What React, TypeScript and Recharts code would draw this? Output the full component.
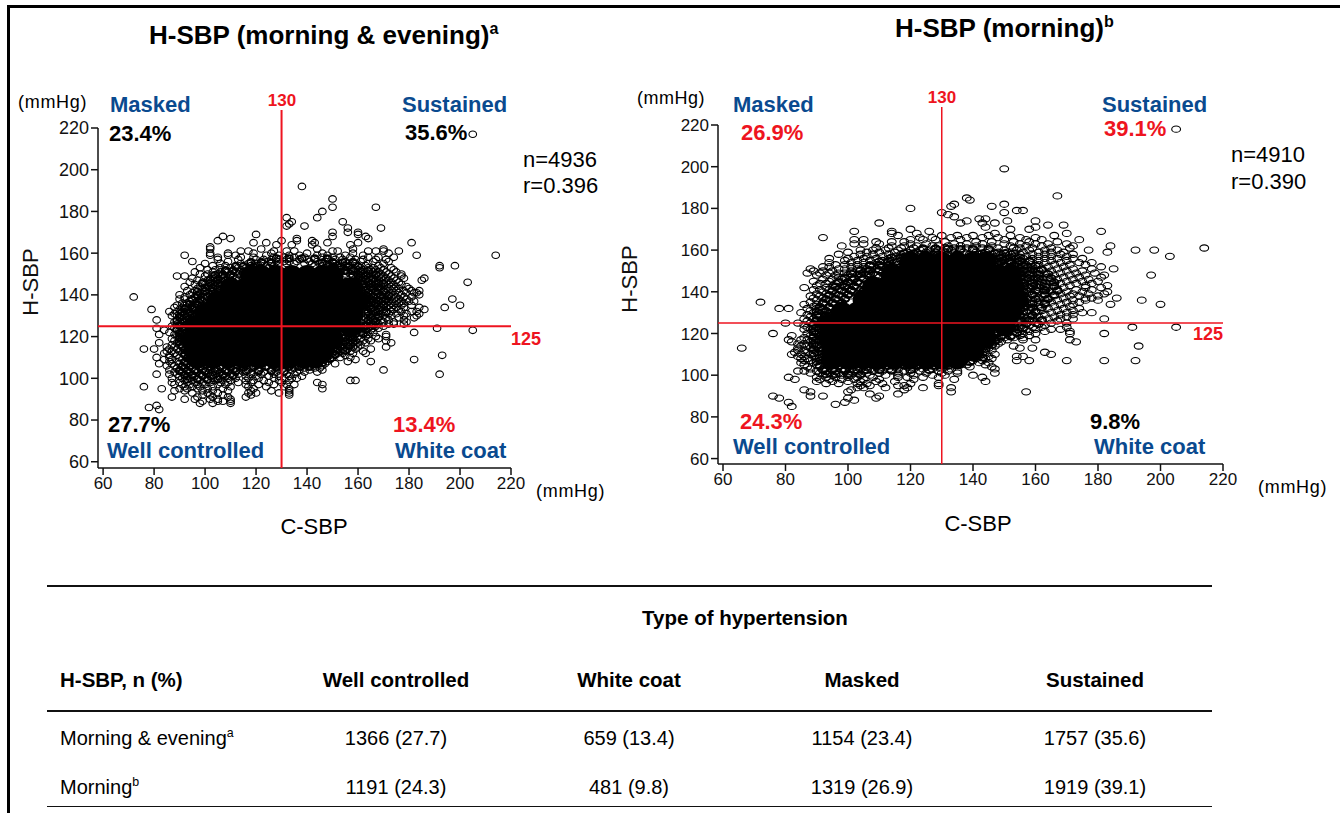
import React from 'react';
import { ScatterChart, Scatter, XAxis, YAxis } from 'recharts';

type Row = [number, number[]];

const FONT = '"Liberation Sans", Arial, sans-serif';
const BLUE = '#0a4a8f';
const RED = '#ee1420';

const axisTicks = [60, 80, 100, 120, 140, 160, 180, 200, 220];
const cutX = 130;
const cutY = 125;
const cutTop = 228.6;

// each row is one H-SBP value followed by the C-SBP values read at that height
const leftRings: Row[] = [
  [217, [205]], [192, [138]], [186, [150]], [182, [150, 167]], [180, [146]], [177, [132, 144]],
  [175, [134, 154]], [174, [133]], [173, [132, 139]], [172, [156, 169]], [170, [150, 156, 160]],
  [169, [120, 160]], [168, [107, 150, 163]], [167, [110, 136, 164]], [166, [105, 130, 136, 142]],
  [165, [119, 124, 143, 148, 160, 181]], [164, [128, 134, 142, 157]], [163, [102]],
  [162, [102, 122, 144, 158, 170]], [161, [114, 117, 127, 132, 135, 150, 152, 164, 167, 170, 176]],
  [160, [102, 109, 119, 126, 140, 146, 158, 172]],
  [159, [92, 102, 109, 112, 124, 129, 133, 137, 144, 148, 155, 162, 183, 214]],
  [158, [105, 114, 119, 127, 131, 135, 139, 146, 150, 153, 157, 164, 168, 174]],
  [157, [105, 113, 120, 123, 126, 129, 132, 137, 140, 143, 148, 151, 154, 159, 162, 167, 171]],
  [156, [95, 109, 118, 122, 125, 128, 131, 133, 136, 141, 144, 147, 150, 155, 158, 161, 166, 172]],
  [155, [100, 106, 114, 117, 120, 123, 126, 129, 132, 135, 139, 142, 145, 148, 151, 153, 156, 159, 164, 170]],
  [154, [103, 108, 112, 115, 118, 121, 124, 127, 143, 146, 149, 152, 155, 157, 160, 163, 168, 192, 198]],
  [153, [98, 106, 110, 113, 116, 119, 122, 125, 147, 150, 153, 156, 158, 161, 164, 166, 169, 173, 192]],
  [152, [101, 104, 108, 111, 114, 117, 120, 150, 153, 155, 158, 160, 162, 165, 167, 170, 174]],
  [151, [96, 103, 106, 109, 112, 115, 118, 153, 156, 159, 161, 163, 166, 168, 171, 175]],
  [150, [98, 101, 105, 107, 110, 113, 115, 155, 157, 160, 162, 164, 167, 169, 172, 177]],
  [149, [89, 92, 100, 103, 106, 108, 111, 114, 158, 161, 163, 165, 168, 170, 173, 177]],
  [148, [95, 104, 107, 109, 112, 159, 162, 164, 166, 169, 171, 174, 178, 186]],
  [147, [97, 101, 103, 105, 108, 110, 113, 160, 163, 165, 167, 170, 172, 175, 185]],
  [146, [94, 99, 102, 104, 106, 109, 111, 161, 164, 166, 168, 171, 173, 176, 203]],
  [145, [96, 100, 103, 105, 107, 110, 162, 165, 167, 169, 172, 174, 177]],
  [144, [92, 98, 101, 104, 106, 108, 163, 165, 168, 170, 173, 175, 179]],
  [143, [97, 99, 102, 105, 107, 109, 164, 166, 169, 171, 174, 176, 180]],
  [142, [93, 96, 100, 103, 106, 108, 163, 165, 167, 170, 172, 175, 178, 181, 184]],
  [141, [95, 98, 101, 104, 106, 164, 166, 168, 171, 173, 176, 179, 182, 183]],
  [140, [90, 94, 97, 100, 102, 105, 107, 163, 165, 167, 169, 172, 174, 177, 184]],
  [139, [72, 92, 96, 99, 101, 104, 106, 164, 166, 168, 170, 173, 175, 178, 181]],
  [138, [90, 92, 95, 98, 100, 103, 105, 163, 165, 167, 169, 171, 174, 176, 179, 197]],
  [137, [94, 97, 99, 102, 104, 163, 166, 168, 170, 172, 175, 177, 180, 182]],
  [136, [91, 93, 96, 98, 101, 103, 164, 165, 167, 169, 171, 173, 176, 178]],
  [135, [89, 92, 95, 97, 100, 102, 163, 165, 168, 170, 172, 174, 177, 181, 200]],
  [134, [95, 88, 91, 94, 96, 99, 101, 164, 166, 169, 171, 173, 175, 178, 184, 194]],
  [133, [79, 90, 92, 93, 95, 98, 100, 163, 165, 167, 170, 174, 176, 186]],
  [132, [86, 89, 91, 94, 97, 99, 164, 166, 168, 171, 173, 177, 181, 183]],
  [131, [88, 90, 92, 93, 96, 98, 163, 165, 169, 172, 175, 179, 184]],
  [130, [87, 89, 91, 94, 96, 164, 167, 170, 173, 178, 183]],
  [129, [90, 92, 95, 163, 165, 168, 171, 176, 182]],
  [128, [81, 89, 91, 93, 162, 164, 166, 169, 172, 178]],
  [127, [88, 90, 92, 94, 163, 165, 167, 170, 174, 179]],
  [126, [89, 91, 93, 162, 164, 166, 168, 172, 174, 178]],
  [125, [87, 90, 92, 161, 163, 165, 167, 170]],
  [124, [81, 88, 91, 162, 164, 166, 168, 191]],
  [123, [84, 89, 90, 92, 160, 163, 165, 205]],
  [122, [86, 91, 158, 161, 163, 166, 182]],
  [121, [82, 88, 90, 157, 159, 162, 164, 171]],
  [120, [89, 91, 93, 155, 157, 160, 163, 167, 171]],
  [119, [87, 90, 92, 154, 156, 158, 161, 164, 168]],
  [118, [88, 91, 152, 155, 157, 159, 162, 165, 171]],
  [117, [82, 89, 92, 151, 153, 156, 158, 160, 163, 173]],
  [116, [87, 90, 93, 150, 152, 154, 157, 159, 161]],
  [115, [85, 88, 91, 149, 151, 153, 155, 158, 160, 171]],
  [114, [76, 80, 86, 89, 92, 148, 150, 152, 154, 156, 159, 165]],
  [113, [85, 87, 90, 93, 147, 149, 151, 153, 155, 157, 162]],
  [112, [84, 88, 91, 94, 146, 148, 150, 152, 154, 158, 163]],
  [111, [86, 89, 92, 145, 147, 149, 151, 155, 193]],
  [110, [81, 86, 90, 93, 95, 144, 146, 148, 150, 153, 157]],
  [109, [84, 87, 91, 94, 141, 143, 145, 147, 149, 159, 182]],
  [108, [86, 89, 92, 139, 141, 143, 145, 148, 156, 165]],
  [107, [82, 87, 90, 93, 96, 131, 134, 137, 140, 142, 144, 147, 151]],
  [106, [85, 88, 91, 94, 97, 100, 103, 106, 109, 113, 116, 120, 124, 127, 130, 133, 136, 138, 141, 146]],
  [105, [89, 92, 95, 98, 101, 104, 107, 110, 112, 115, 118, 122, 125, 128, 131, 135, 139, 143, 145]],
  [104, [86, 90, 93, 96, 99, 102, 105, 108, 111, 114, 117, 121, 126, 130, 134, 137, 141, 146, 170]],
  [103, [88, 91, 94, 97, 100, 103, 106, 109, 112, 115, 119, 123, 128, 131, 136, 139, 144]],
  [102, [81, 86, 89, 92, 95, 98, 101, 104, 107, 110, 113, 118, 122, 127, 132, 135, 192]],
  [101, [90, 93, 96, 99, 102, 105, 108, 111, 116, 120, 125, 129, 133, 138]],
  [100, [87, 91, 94, 97, 100, 103, 106, 109, 112, 117, 121, 127, 131, 134, 136]],
  [99, [92, 95, 98, 101, 104, 107, 110, 116, 119, 123, 129, 133, 157, 159]],
  [98, [87, 90, 93, 96, 99, 102, 106, 109, 113, 118, 125, 130, 144]],
  [97, [88, 91, 94, 97, 100, 105, 108, 116, 121, 127, 132, 135, 146]],
  [96, [76, 92, 95, 98, 103, 110, 117, 124, 131]],
  [95, [83, 90, 93, 97, 101, 107, 119, 146, 133]],
  [94, [88, 92, 99, 103, 109, 118, 126, 133]],
  [93, [95, 101, 105, 117, 120, 129, 133]],
  [92, [99, 102, 107, 118, 133]],
  [91, [87, 97, 103, 109, 116]],
  [90, [92, 96, 102, 105, 110]],
  [89, [99, 105, 107, 110]],
  [88, [98, 103, 110]],
  [87, [81]], [86, [78]], [85, [82]],
];

// tightly overlapping readings around the solid area
const leftDense: Row[] = [
  [157.5, [128, 133, 138, 143, 148]],
  [155.5, [118, 122, 126, 146, 150, 154, 158]],
  [153.5, [112, 115, 119, 150, 153, 156, 160]],
  [151.5, [108, 111, 155, 158, 161, 164]],
  [149.5, [104, 107, 110, 158, 160, 163, 167]],
  [147.5, [102, 105, 160, 163, 166]],
  [145.5, [99, 102, 105, 162, 165, 168, 170]],
  [143.5, [100, 103, 162, 165, 168]],
  [141.5, [97, 100, 103, 164, 167, 170]],
  [139.5, [97, 101, 163, 166, 169, 172]],
  [137.5, [95, 98, 165, 168, 171]],
  [135.5, [94, 97, 164, 167, 170]],
  [133.5, [92, 95, 165, 168]],
  [131.5, [91, 94, 164, 167, 171]],
  [129.5, [90, 93, 165, 168]],
  [127.5, [89, 92, 164, 167]],
  [125.5, [90, 163, 166]],
  [123.5, [89, 92, 160, 163]],
  [121.5, [90, 92, 156, 159, 162]],
  [119.5, [90, 155, 158]],
  [117.5, [90, 93, 152, 155, 158]],
  [115.5, [91, 150, 153, 156]],
  [113.5, [92, 149, 152, 155]],
  [111.5, [92, 95, 148, 151]],
  [109.5, [93, 146, 149]],
  [107.5, [92, 95, 97, 101, 105, 109, 113, 118, 122, 126, 130, 134, 138, 142, 146]],
  [105.5, [91, 94, 98, 102, 106, 110, 115, 119, 124, 128, 133, 137, 141]],
  [103.5, [90, 93, 96, 100, 104, 108, 112, 116, 121, 126, 131]],
  [101.5, [92, 95, 99, 103, 107, 111]],
  [99.5, [93, 97, 101, 105]],
];

const leftCore: Row[] = [
  [149, [118, 122, 128, 134, 140, 146, 150]],
  [143, [110, 116, 122, 128, 134, 140, 146, 152, 156, 158]],
  [137, [105, 111, 117, 123, 129, 135, 141, 147, 153, 157, 160]],
  [131, [100, 106, 112, 118, 124, 130, 136, 142, 148, 154, 158]],
  [125, [96, 102, 108, 114, 120, 126, 132, 138, 144, 150, 157]],
  [119, [95, 101, 107, 113, 119, 125, 131, 137, 143, 150]],
  [113, [96, 102, 108, 114, 120, 126, 132, 138, 146]],
  [110, [97, 103, 109, 115, 121, 127, 133, 139, 143]],
];

const rightRings: Row[] = [
  [218, [205]], [199, [150]], [186, [167]], [185, [138]], [184, [139]], [182, [134, 150]],
  [181, [133, 146]], [180, [120]], [179, [154, 156]], [178, [130, 150]], [177, [132]], [176, [134]],
  [175, [142, 144]], [174, [138, 151, 160]], [173, [110, 136, 143, 147]], [172, [164, 169]],
  [171, [144, 160]], [170, [120, 152, 158]], [169, [102, 114, 126, 181]], [168, [114, 122, 147, 170]],
  [167, [116, 130, 135, 140, 145, 152, 166]], [166, [92, 123, 127, 133, 138, 143, 148, 155, 160]],
  [165, [102, 105, 120, 124, 128, 136, 150, 157, 162, 174]], [164, [109, 114, 118, 131, 141, 146, 153, 158, 167]],
  [163, [102, 105, 110, 120, 125, 134, 138, 143, 150, 155, 160, 164, 170]],
  [162, [98, 114, 118, 122, 127, 129, 132, 136, 141, 146, 152, 157, 162, 172, 184]],
  [161, [109, 113, 117, 121, 124, 128, 131, 134, 138, 143, 148, 153, 155, 159, 165, 171, 214]],
  [160, [104, 108, 112, 116, 120, 123, 126, 129, 133, 136, 140, 145, 150, 154, 158, 163, 167, 177, 192, 198]],
  [159, [100, 106, 110, 115, 119, 122, 125, 128, 131, 134, 137, 141, 144, 148, 151, 156, 161, 165, 169, 183]],
  [158, [97, 104, 108, 113, 117, 120, 123, 126, 129, 132, 135, 139, 142, 146, 149, 152, 155, 159, 163, 168, 172]],
  [157, [102, 106, 111, 115, 118, 121, 124, 127, 141, 144, 147, 150, 153, 157, 161, 165, 170, 203]],
  [156, [94, 100, 105, 109, 113, 116, 119, 122, 125, 143, 146, 149, 151, 154, 156, 159, 163, 167, 172, 175]],
  [155, [99, 103, 107, 111, 114, 117, 120, 123, 145, 147, 150, 152, 155, 158, 161, 165, 170]],
  [154, [94, 101, 105, 109, 112, 115, 118, 121, 147, 149, 152, 154, 156, 159, 163, 168, 174, 178]],
  [153, [96, 99, 103, 107, 110, 113, 116, 119, 148, 150, 153, 155, 157, 161, 166, 171, 176]],
  [152, [92, 94, 101, 105, 108, 111, 114, 117, 150, 152, 154, 156, 159, 164, 169, 181]],
  [151, [88, 97, 99, 103, 106, 109, 112, 115, 151, 153, 155, 157, 160, 162, 167, 172, 178, 185]],
  [150, [89, 92, 95, 101, 104, 107, 110, 113, 152, 154, 156, 158, 161, 165, 170, 175]],
  [149, [87, 91, 94, 97, 99, 102, 105, 108, 111, 153, 155, 157, 159, 163, 168, 173, 179]],
  [148, [90, 93, 96, 100, 103, 106, 109, 154, 156, 158, 161, 166, 171, 176, 182, 197]],
  [147, [97, 99, 101, 104, 107, 110, 155, 157, 160, 164, 169, 174, 181]],
  [146, [92, 95, 98, 102, 105, 108, 154, 156, 159, 162, 167, 172, 177]],
  [145, [89, 94, 97, 100, 103, 106, 109, 155, 158, 161, 165, 170, 175, 180]],
  [144, [91, 93, 96, 99, 101, 104, 107, 156, 159, 163, 168, 173, 178]],
  [143, [90, 95, 98, 100, 102, 105, 157, 160, 162, 166, 171, 176, 183]],
  [142, [86, 93, 96, 99, 103, 106, 158, 161, 164, 169, 176, 181]],
  [141, [89, 91, 94, 97, 101, 104, 157, 160, 163, 167, 173, 178]],
  [140, [92, 95, 99, 102, 158, 161, 165, 170, 175, 183]],
  [139, [90, 93, 96, 100, 103, 157, 159, 163, 168, 172, 177, 182]],
  [138, [88, 91, 94, 98, 101, 156, 160, 166, 171, 174, 180]],
  [137, [89, 92, 96, 99, 157, 161, 164, 169, 176, 178, 186]],
  [136, [90, 94, 97, 156, 159, 163, 167, 172, 176, 180, 194]],
  [135, [72, 88, 92, 95, 98, 157, 161, 165, 170, 174]],
  [134, [86, 90, 93, 96, 156, 159, 163, 168, 172, 184, 200]],
  [133, [89, 91, 94, 157, 161, 166, 171]],
  [132, [78, 81, 87, 90, 92, 156, 159, 164, 169, 174]],
  [131, [88, 91, 93, 155, 158, 162, 167, 172]],
  [130, [85, 89, 92, 95, 157, 160, 165, 170, 175, 178]],
  [129, [87, 90, 93, 155, 159, 163, 168, 172]],
  [128, [88, 91, 94, 156, 158, 161, 166, 170]],
  [127, [86, 89, 92, 155, 159, 164, 168, 172, 182]],
  [126, [87, 90, 93, 154, 157, 162, 167]],
  [125, [80, 84, 88, 91, 155, 160, 165, 170]],
  [124, [86, 89, 92, 153, 156, 158, 163]],
  [123, [87, 90, 152, 155, 159, 162, 170, 191, 205]],
  [122, [86, 88, 91, 151, 154, 157, 160, 165, 168]],
  [121, [89, 92, 150, 153, 155, 158, 163, 171]],
  [120, [76, 87, 90, 148, 151, 154, 156, 160, 171, 182]],
  [119, [82, 88, 91, 147, 149, 152, 155, 158]],
  [118, [86, 89, 92, 145, 148, 150, 153, 156]],
  [117, [81, 85, 87, 90, 143, 146, 148, 151, 156, 160, 171]],
  [116, [82, 88, 91, 142, 144, 147, 149, 173]],
  [115, [84, 86, 89, 92, 141, 143, 145, 148]],
  [114, [85, 87, 90, 140, 142, 144, 147, 153, 193]],
  [113, [66, 84, 88, 91, 139, 141, 143, 145, 155, 159]],
  [112, [84, 86, 89, 92, 138, 140, 142, 146]],
  [111, [83, 87, 90, 137, 139, 141, 144, 163]],
  [110, [82, 85, 88, 91, 136, 138, 140, 143, 147, 165]],
  [109, [84, 86, 89, 92, 135, 137, 139, 142, 145, 154, 156]],
  [108, [85, 87, 90, 93, 134, 136, 138, 141, 144, 146]],
  [107, [86, 88, 91, 94, 125, 128, 131, 133, 135, 137, 140, 143, 154, 158, 170, 182, 192]],
  [106, [85, 89, 92, 95, 112, 115, 118, 121, 124, 127, 130, 133, 136, 139, 142, 145]],
  [105, [86, 90, 93, 96, 99, 102, 105, 108, 111, 114, 117, 120, 123, 126, 129, 134, 138, 144]],
  [104, [87, 91, 94, 97, 100, 103, 106, 109, 112, 115, 119, 122, 125, 128, 131, 139, 146]],
  [103, [88, 92, 95, 98, 101, 104, 107, 110, 113, 116, 121, 124, 127, 130, 133, 147]],
  [102, [84, 86, 90, 93, 96, 99, 102, 105, 108, 111, 114, 118, 123, 129, 132, 135]],
  [101, [88, 91, 94, 97, 100, 103, 106, 110, 116, 120, 125, 130, 135, 147]],
  [100, [92, 95, 98, 101, 104, 107, 112, 116, 121, 127, 131, 140]],
  [99, [81, 90, 93, 96, 100, 103, 108, 116, 119, 124, 129, 143]],
  [98, [83, 91, 94, 98, 102, 105, 110, 121, 134]],
  [97, [90, 95, 100, 104, 109, 115, 144]],
  [96, [93, 97, 103, 106, 111, 120, 129]],
  [95, [104, 107, 116, 118, 129]],
  [94, [103, 105, 112, 119, 124, 133]],
  [93, [86, 101, 118]], [92, [88, 100, 133, 157]], [91, [107, 116]], [90, [76, 88, 92, 110]],
  [89, [78, 100, 109]], [88, [102]], [87, [81, 99]], [86, [96]], [85, [82]],
];

const rightDense: Row[] = [
  [160.5, [124, 128, 132, 136, 140, 145]],
  [158.5, [118, 121, 143, 147, 150, 153]],
  [156.5, [114, 117, 146, 149, 152, 155]],
  [154.5, [110, 113, 116, 149, 152, 155, 158]],
  [152.5, [107, 110, 113, 150, 153, 156, 160]],
  [150.5, [104, 107, 110, 113, 153, 156, 159, 162]],
  [148.5, [101, 104, 107, 155, 158, 161, 164]],
  [146.5, [99, 102, 105, 155, 158, 161, 165]],
  [144.5, [97, 100, 103, 156, 159, 162, 166]],
  [142.5, [96, 99, 102, 156, 159, 163, 166]],
  [140.5, [95, 98, 101, 105, 156, 160, 163, 167]],
  [138.5, [94, 97, 100, 156, 159, 163, 166]],
  [136.5, [93, 96, 99, 156, 160, 164]],
  [134.5, [92, 95, 98, 156, 159, 163]],
  [132.5, [91, 94, 156, 159, 162]],
  [130.5, [90, 93, 156, 160]],
  [128.5, [90, 93, 155, 159]],
  [126.5, [90, 92, 155, 158, 162]],
  [124.5, [89, 91, 153, 157, 161]],
  [122.5, [89, 91, 150, 153, 156]],
  [120.5, [89, 91, 148, 151, 154]],
  [118.5, [89, 91, 146, 149, 152]],
  [116.5, [89, 91, 144, 147]],
  [114.5, [89, 91, 143, 146]],
  [112.5, [89, 92, 141, 144]],
  [110.5, [89, 92, 139, 142]],
  [108.5, [91, 94, 137, 140, 143]],
  [106.5, [90, 93, 96, 100, 103, 107, 111, 115, 118, 123, 127, 131, 135, 139]],
  [104.5, [91, 94, 97, 101, 105, 109, 113, 118, 122, 127, 132]],
  [102.5, [92, 95, 99, 103, 106, 110, 114, 120, 126]],
  [100.5, [93, 96, 100, 104]],
];

const rightCore: Row[] = [
  [154, [120, 125, 130, 135, 140, 144]],
  [148, [114, 118, 123, 128, 133, 138, 143, 148, 152]],
  [142, [108, 112, 117, 122, 127, 132, 137, 142, 147, 150, 153]],
  [136, [105, 110, 115, 120, 125, 130, 135, 140, 145, 150, 154]],
  [130, [98, 103, 108, 113, 118, 123, 128, 133, 138, 143, 148, 152]],
  [124, [94, 99, 104, 109, 114, 119, 124, 129, 134, 139, 144, 150]],
  [118, [94, 99, 104, 109, 114, 119, 124, 129, 134, 139, 144]],
  [112, [95, 100, 105, 110, 115, 120, 125, 130, 135, 140]],
  [108, [95, 100, 105, 110, 115, 120, 125, 130, 135]],
];

const columns = ['Well controlled', 'White coat', 'Masked', 'Sustained'];
const morningEvening = ['1366 (27.7)', '659 (13.4)', '1154 (23.4)', '1757 (35.6)'];
const morning = ['1191 (24.3)', '481 (9.8)', '1319 (26.9)', '1919 (39.1)'];

const toPoints = (rows: Row[]) => rows.flatMap(([y, xs]) => xs.map((x) => ({ x, y })));

type PanelProps = {
  left: number; top: number; lineTop: number; width: number; height: number;
  plotLeft: number; plotRight: number; plotBottom: number;
  xMin: number; yMin: number; rx: number; ry: number; lineWidth: number; yFont: number;
  rings: Row[]; dense: Row[]; core: Row[];
};

const Panel = (p: PanelProps) => (
  <div style={{ position: 'absolute', left: p.left, top: 0 }}>
    <ScatterChart
      width={p.width}
      height={p.height}
      margin={{ top: p.top, left: p.plotLeft - 60, right: p.width - p.plotRight, bottom: p.height - p.plotBottom - 30 }}
    >
      <XAxis
        type="number" dataKey="x" domain={[p.xMin, 220]} ticks={axisTicks} interval={0} height={30}
        stroke="#111" strokeWidth={1.5} tickSize={7} tick={{ fill: '#111', fontSize: 17, fontFamily: FONT }}
      />
      <YAxis
        type="number" dataKey="y" domain={[p.yMin, 220]} ticks={axisTicks} interval={0} width={60}
        stroke="#111" strokeWidth={1.5} tickSize={7} tick={{ fill: '#111', fontSize: p.yFont, fontFamily: FONT }}
      />
      <Scatter
        data={toPoints(p.rings)} isAnimationActive={false}
        shape={(s: any) => <ellipse cx={s.cx} cy={s.cy} rx={p.rx} ry={p.ry} fill="none" stroke="#000" strokeWidth={1.1} />}
      />
      <Scatter
        data={toPoints(p.dense)} isAnimationActive={false}
        shape={(s: any) => <ellipse cx={s.cx} cy={s.cy} rx={p.rx} ry={p.ry} fill="none" stroke="#000" strokeWidth={1.8} />}
      />
      <Scatter
        data={toPoints(p.core)} isAnimationActive={false}
        shape={(s: any) => <ellipse cx={s.cx} cy={s.cy} rx={11} ry={11} fill="#000" />}
      />
    </ScatterChart>
    {/* second chart, taller by the part of the line above 220, so the red cut-offs sit above the marks */}
    <div style={{ position: 'absolute', left: 0, top: 0 }}>
      <ScatterChart
        width={p.width}
        height={p.height}
        margin={{ top: p.lineTop, left: p.plotLeft, right: p.width - p.plotRight, bottom: p.height - p.plotBottom }}
      >
        <XAxis type="number" dataKey="x" domain={[p.xMin, 220]} height={0} axisLine={false} tickLine={false} tick={false} />
        <YAxis type="number" dataKey="y" domain={[p.yMin, cutTop]} width={0} axisLine={false} tickLine={false} tick={false} />
        <Scatter
          data={[{ x: p.xMin, y: cutY }, { x: 220, y: cutY }]} isAnimationActive={false}
          line={{ stroke: RED, strokeWidth: p.lineWidth }} shape={() => <g />}
        />
        <Scatter
          data={[{ x: cutX, y: p.yMin }, { x: cutX, y: cutTop }]} isAnimationActive={false}
          line={{ stroke: RED, strokeWidth: p.lineWidth }} shape={() => <g />}
        />
      </ScatterChart>
    </div>
  </div>
);

type NoteProps = {
  x: number; y: number; size?: number; bold?: boolean; color?: string; center?: boolean; spacing?: number; children: React.ReactNode;
};

const Note = ({ x, y, size = 22, bold = false, color = '#000', center = false, spacing = 0, children }: NoteProps) => (
  <div
    style={{
      position: 'absolute', left: x, top: y, transform: `translate(${center ? '-50%' : '0'}, -50%)`,
      fontSize: size, fontWeight: bold ? 700 : 400, color, lineHeight: 1, whiteSpace: 'nowrap', fontFamily: FONT,
      letterSpacing: spacing,
    }}
  >
    {children}
  </div>
);

const Sup = ({ children }: { children: React.ReactNode }) => (
  <sup style={{ fontSize: '0.62em', lineHeight: 0 }}>{children}</sup>
);

const Rotated = ({ x, y, children }: { x: number; y: number; children: React.ReactNode }) => (
  <div
    style={{
      position: 'absolute', left: x, top: y, transform: 'translate(-50%, -50%) rotate(-90deg)',
      fontSize: 22, lineHeight: 1, whiteSpace: 'nowrap', fontFamily: FONT, color: '#111',
    }}
  >
    {children}
  </div>
);

const Rule = ({ y, h }: { y: number; h: number }) => (
  <div style={{ position: 'absolute', left: 47, width: 1165, top: y, height: h, background: '#111' }} />
);

const colCenters = [396, 629, 862, 1095];

export default function App() {
  return (
    <div style={{ position: 'absolute', left: 0, top: 0, width: 1340, height: 813, overflow: 'hidden', background: '#fff' }}>
      <div style={{ position: 'absolute', left: 7, top: 5, width: 1340, height: 820, borderLeft: '3px solid #000', borderTop: '3px solid #000' }} />

      <Panel
        left={0} top={128} lineTop={110} width={620} height={560} plotLeft={98} plotRight={511} plotBottom={468} yFont={18}
        xMin={58} yMin={57} rx={3.8} ry={3.3} lineWidth={2} rings={leftRings} dense={leftDense} core={leftCore}
      />
      <Panel
        left={620} top={125} lineTop={107} width={720} height={560} plotLeft={98} plotRight={603} plotBottom={464} yFont={17}
        xMin={58.4} yMin={57.4} rx={4.4} ry={3.1} lineWidth={1.5} rings={rightRings} dense={rightDense} core={rightCore}
      />

      <Note x={149} y={35} size={26} bold>H-SBP (morning &amp; evening)<Sup>a</Sup></Note>
      <Note x={18} y={102} size={18} spacing={0.7}>(mmHg)</Note>
      <Note x={110} y={105} bold color={BLUE}>Masked</Note>
      <Note x={109} y={134} bold>23.4%</Note>
      <Note x={282} y={100} size={17} bold color={RED} center>130</Note>
      <Note x={402} y={105} bold color={BLUE}>Sustained</Note>
      <Note x={405} y={133} bold>35.6%</Note>
      <Note x={523} y={160}>n=4936</Note>
      <Note x={523} y={186}>r=0.396</Note>
      <Note x={511} y={339} size={18} bold color={RED}>125</Note>
      <Note x={108} y={425} bold>27.7%</Note>
      <Note x={393} y={425} bold color={RED}>13.4%</Note>
      <Note x={107} y={451} bold color={BLUE}>Well controlled</Note>
      <Note x={395} y={451} bold color={BLUE}>White coat</Note>
      <Note x={536} y={491} size={18} spacing={0.7}>(mmHg)</Note>
      <Note x={314} y={527} center>C-SBP</Note>
      <Rotated x={31} y={282}>H-SBP</Rotated>

      <Note x={895} y={28} size={26} bold>H-SBP (morning)<Sup>b</Sup></Note>
      <Note x={637} y={98} size={18} spacing={0.5}>(mmHg)</Note>
      <Note x={733} y={105} bold color={BLUE}>Masked</Note>
      <Note x={741} y={133} bold color={RED}>26.9%</Note>
      <Note x={942} y={97} size={17} bold color={RED} center>130</Note>
      <Note x={1102} y={105} bold color={BLUE}>Sustained</Note>
      <Note x={1104} y={129} bold color={RED}>39.1%</Note>
      <Note x={1231} y={155}>n=4910</Note>
      <Note x={1231} y={182}>r=0.390</Note>
      <Note x={1193} y={334} size={18} bold color={RED}>125</Note>
      <Note x={740} y={422} bold color={RED}>24.3%</Note>
      <Note x={1090} y={422} bold>9.8%</Note>
      <Note x={733} y={447} bold color={BLUE}>Well controlled</Note>
      <Note x={1094} y={447} bold color={BLUE}>White coat</Note>
      <Note x={1258} y={487} size={18} spacing={0.7}>(mmHg)</Note>
      <Note x={978} y={524} center>C-SBP</Note>
      <Rotated x={630} y={279}>H-SBP</Rotated>

      <Rule y={585} h={2} />
      <Rule y={710} h={2} />
      <Rule y={806} h={1} />
      <Note x={745} y={618} size={20.5} bold center>Type of hypertension</Note>
      <Note x={60} y={680} size={20.5} bold>H-SBP, n (%)</Note>
      <Note x={60} y={738} size={20}>Morning &amp; evening<Sup>a</Sup></Note>
      <Note x={60} y={787} size={20}>Morning<Sup>b</Sup></Note>
      {columns.map((c, i) => (
        <Note key={c} x={colCenters[i]} y={680} size={20.5} bold center>{c}</Note>
      ))}
      {morningEvening.map((v, i) => (
        <Note key={v} x={colCenters[i]} y={738} size={20} center>{v}</Note>
      ))}
      {morning.map((v, i) => (
        <Note key={v} x={colCenters[i]} y={787} size={20} center>{v}</Note>
      ))}
    </div>
  );
}
